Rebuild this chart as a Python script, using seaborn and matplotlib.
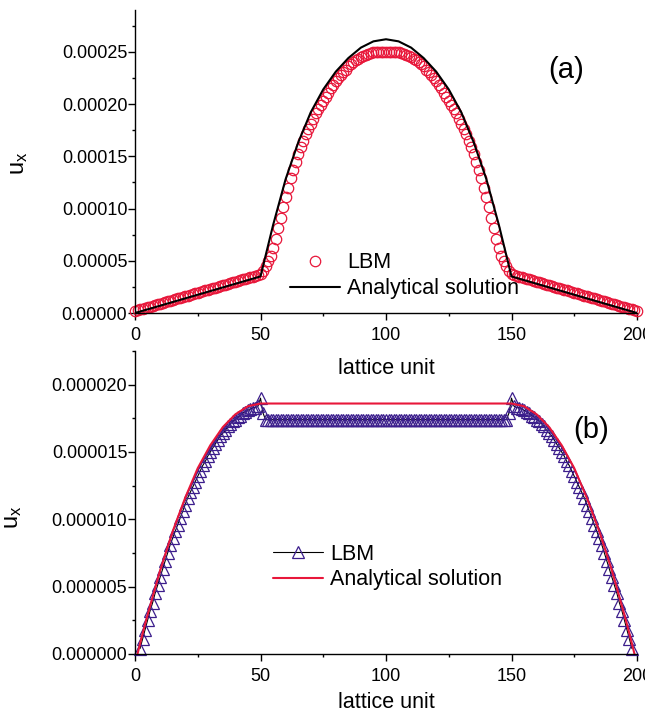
import numpy as np
import matplotlib
matplotlib.use('Agg')
import matplotlib.pyplot as plt
import seaborn as sns
from matplotlib.ticker import MultipleLocator, FormatStrFormatter

# ---- data (velocity values in units of 1e-6) ----
# panel (a)
lattice_a = np.arange(0, 201)
lbm_a = [
    2.0, 2.7, 3.4, 4.1, 4.8, 5.5, 6.2, 6.9, 7.6, 8.3,
    9.0, 9.7, 10.4, 11.1, 11.8, 12.5, 13.2, 13.9, 14.6, 15.3,
    16.0, 16.7, 17.4, 18.1, 18.8, 19.5, 20.2, 20.9, 21.6, 22.3,
    23.0, 23.7, 24.4, 25.1, 25.8, 26.5, 27.2, 27.9, 28.6, 29.3,
    30.0, 30.7, 31.4, 32.1, 32.8, 33.5, 34.2, 34.9, 35.6, 36.3,
    37.0,
    40, 45, 50, 55, 62, 71, 81, 91, 101, 111,
    120, 129, 137, 145, 152, 159, 165, 171, 176, 181,
    186, 191, 195, 199, 203, 207, 211, 215, 218, 222,
    225, 228, 231, 233, 236, 238, 240, 242, 243, 245,
    246, 247, 248, 249, 249.5, 250, 250, 250, 250, 250,
    250, 250, 250, 250, 249.5, 249, 248, 247, 246, 245,
    243, 242, 240, 238, 236, 233, 231, 228, 225, 222,
    218, 215, 211, 207, 203, 199, 195, 191, 186, 181,
    176, 171, 165, 159, 152, 145, 137, 129, 120, 111,
    101, 91, 81, 71, 62, 55, 50, 45, 40,
    37.0,
    36.3, 35.6, 34.9, 34.2, 33.5, 32.8, 32.1, 31.4, 30.7, 30.0,
    29.3, 28.6, 27.9, 27.2, 26.5, 25.8, 25.1, 24.4, 23.7, 23.0,
    22.3, 21.6, 20.9, 20.2, 19.5, 18.8, 18.1, 17.4, 16.7, 16.0,
    15.3, 14.6, 13.9, 13.2, 12.5, 11.8, 11.1, 10.4, 9.7, 9.0,
    8.3, 7.6, 6.9, 6.2, 5.5, 4.8, 4.1, 3.4, 2.7, 2.0,
]
x_ana_a = [0, 5, 10, 15, 20, 25, 30, 35, 40, 45, 50,
           55, 60, 65, 70, 75, 80, 85, 90, 95, 100,
           105, 110, 115, 120, 125, 130, 135, 140, 145,
           150, 155, 160, 165, 170, 175, 180, 185, 190, 195, 200]
ana_a = [0, 3.5, 7, 10.5, 14, 17.5, 21, 24.5, 28, 31.5, 35,
         84, 128, 163, 192, 214, 231, 244, 254, 260, 262,
         260, 254, 244, 231, 214, 192, 163, 128, 84,
         35, 31.5, 28, 24.5, 21, 17.5, 14, 10.5, 7, 3.5, 0]

# panel (b)
lattice_b = np.arange(2, 199)
lbm_b = [
    0.4, 1.1, 1.8, 2.5, 3.2, 3.8, 4.5, 5.1, 5.7, 6.3,
    6.9, 7.5, 8.1, 8.6, 9.1, 9.6, 10.1, 10.6, 11.1, 11.6,
    12.0, 12.4, 12.8, 13.2, 13.6, 14.0, 14.3, 14.7, 15.0, 15.3,
    15.6, 15.9, 16.2, 16.4, 16.6, 16.9, 17.1, 17.3, 17.4, 17.6,
    17.7, 17.9, 18.0, 18.1, 18.2, 18.3, 18.3, 18.4,
    19.0, 17.9,
    17.4, 17.4, 17.4, 17.4, 17.4, 17.4, 17.4, 17.4, 17.4, 17.4,
    17.4, 17.4, 17.4, 17.4, 17.4, 17.4, 17.4, 17.4, 17.4, 17.4,
    17.4, 17.4, 17.4, 17.4, 17.4, 17.4, 17.4, 17.4, 17.4, 17.4,
    17.4, 17.4, 17.4, 17.4, 17.4, 17.4, 17.4, 17.4, 17.4, 17.4,
    17.4, 17.4, 17.4, 17.4, 17.4, 17.4, 17.4, 17.4, 17.4, 17.4,
    17.4, 17.4, 17.4, 17.4, 17.4, 17.4, 17.4, 17.4, 17.4, 17.4,
    17.4, 17.4, 17.4, 17.4, 17.4, 17.4, 17.4, 17.4, 17.4, 17.4,
    17.4, 17.4, 17.4, 17.4, 17.4, 17.4, 17.4, 17.4, 17.4, 17.4,
    17.4, 17.4, 17.4, 17.4, 17.4, 17.4, 17.4, 17.4, 17.4, 17.4,
    17.4, 17.4, 17.4, 17.4, 17.4, 17.4, 17.4,
    17.9, 19.0,
    18.4, 18.3, 18.3, 18.2, 18.1, 18.0, 17.9, 17.7, 17.6, 17.4,
    17.3, 17.1, 16.9, 16.6, 16.4, 16.2, 15.9, 15.6, 15.3, 15.0,
    14.7, 14.3, 14.0, 13.6, 13.2, 12.8, 12.4, 12.0, 11.6, 11.1,
    10.6, 10.1, 9.6, 9.1, 8.6, 8.1, 7.5, 6.9, 6.3, 5.7,
    5.1, 4.5, 3.8, 3.2, 2.5, 1.8, 1.1, 0.4,
]
x_ana_b = [1, 3, 5, 10, 15, 20, 25, 30, 35, 40, 45, 50,
           150, 155, 160, 165, 170, 175, 180, 185, 190, 195, 197, 199]
ana_b = [0, 1.5, 2.9, 6.2, 9.1, 11.6, 13.8, 15.5, 16.85, 17.8, 18.4, 18.6,
         18.6, 18.4, 17.8, 16.85, 15.5, 13.8, 11.6, 9.1, 6.2, 2.9, 1.5, 0]

x_ticks = [0, 50, 100, 150, 200]
scale = 1e-6

sns.set_style('ticks')
plt.rcParams['font.family'] = ['Liberation Sans', 'DejaVu Sans']
plt.rcParams['mathtext.default'] = 'regular'
plt.rcParams['text.color'] = 'black'
plt.rcParams['axes.labelcolor'] = 'black'
plt.rcParams['xtick.color'] = 'black'
plt.rcParams['ytick.color'] = 'black'

red = '#e8173a'
purple = '#3c1e8c'

fig = plt.figure(figsize=(6.45, 7.14), dpi=100)
ax1 = fig.add_axes([135 / 645, 1 - 313 / 714, 502 / 645, 303 / 714])
ax2 = fig.add_axes([135 / 645, 1 - 654 / 714, 502 / 645, 303 / 714])
ax2.patch.set_alpha(0)
ax1.set_zorder(3)
ax1.patch.set_alpha(0)

# (a)
sns.lineplot(x=lattice_a, y=np.array(lbm_a) * scale, ax=ax1, estimator=None, sort=False,
             linestyle='none', marker='o', markersize=7.5, markerfacecolor='none',
             markeredgecolor=red, markeredgewidth=0.9, color=red, label='LBM', clip_on=False)
sns.lineplot(x=x_ana_a, y=np.array(ana_a) * scale, ax=ax1, estimator=None, sort=False,
             color='black', linewidth=1.5, label='Analytical solution')
ax1.set_ylim(0, 0.00029)
ax1.yaxis.set_major_locator(MultipleLocator(0.00005))
ax1.yaxis.set_minor_locator(MultipleLocator(0.000025))
ax1.yaxis.set_major_formatter(FormatStrFormatter('%.5f'))
ax1.text(0.859, 0.802, '(a)', transform=ax1.transAxes, fontsize=21,
         ha='center', va='center')
ax1.legend(loc='upper left', bbox_to_anchor=(0.309, 0.201), frameon=False,
           fontsize=15.5, borderpad=0, borderaxespad=0, handlelength=2.3,
           handletextpad=0.35, labelspacing=0.25, numpoints=1)

# (b)
sns.lineplot(x=lattice_b, y=np.array(lbm_b) * scale, ax=ax2, estimator=None, sort=False,
             color='black', linewidth=0.8, marker='^', markersize=8,
             markerfacecolor='none', markeredgecolor=purple, markeredgewidth=0.9,
             label='LBM', clip_on=False)
sns.lineplot(x=x_ana_b, y=np.array(ana_b) * scale, ax=ax2, estimator=None, sort=False,
             color=red, linewidth=1.5, label='Analytical solution')
ax2.set_ylim(0, 0.0000225)
ax2.yaxis.set_major_locator(MultipleLocator(0.000005))
ax2.yaxis.set_minor_locator(MultipleLocator(0.0000025))
ax2.yaxis.set_major_formatter(FormatStrFormatter('%.6f'))
ax2.text(0.908, 0.739, '(b)', transform=ax2.transAxes, fontsize=21,
         ha='center', va='center')
ax2.legend(loc='upper left', bbox_to_anchor=(0.275, 0.363), frameon=False,
           fontsize=15.5, borderpad=0, borderaxespad=0, handlelength=2.3,
           handletextpad=0.35, labelspacing=0.2, numpoints=1)

for ax in (ax1, ax2):
    ax.set_xlim(0, 200)
    ax.set_xticks(x_ticks)
    ax.xaxis.set_minor_locator(MultipleLocator(25))
    sns.despine(ax=ax)
    for side in ('left', 'bottom'):
        ax.spines[side].set_linewidth(1.0)
        ax.spines[side].set_color('black')
    ax.tick_params(which='major', direction='out', length=5, width=1,
                   labelsize=13, colors='black')
    ax.tick_params(axis='x', which='major', pad=5)
    ax.tick_params(axis='y', which='major', pad=0.5)
    ax.tick_params(which='minor', direction='out', length=2.5, width=1)
    ax.set_xlabel('lattice unit', fontsize=15.5)
    ax.set_ylabel('u$_x$', fontsize=17)

ax1.xaxis.set_label_coords(0.5, -0.1485)
ax1.yaxis.set_label_coords(-0.209, 0.495)
ax2.xaxis.set_label_coords(0.5, -0.125)
ax2.yaxis.set_label_coords(-0.221, 0.452)

fig.savefig('out.png', dpi=100)
